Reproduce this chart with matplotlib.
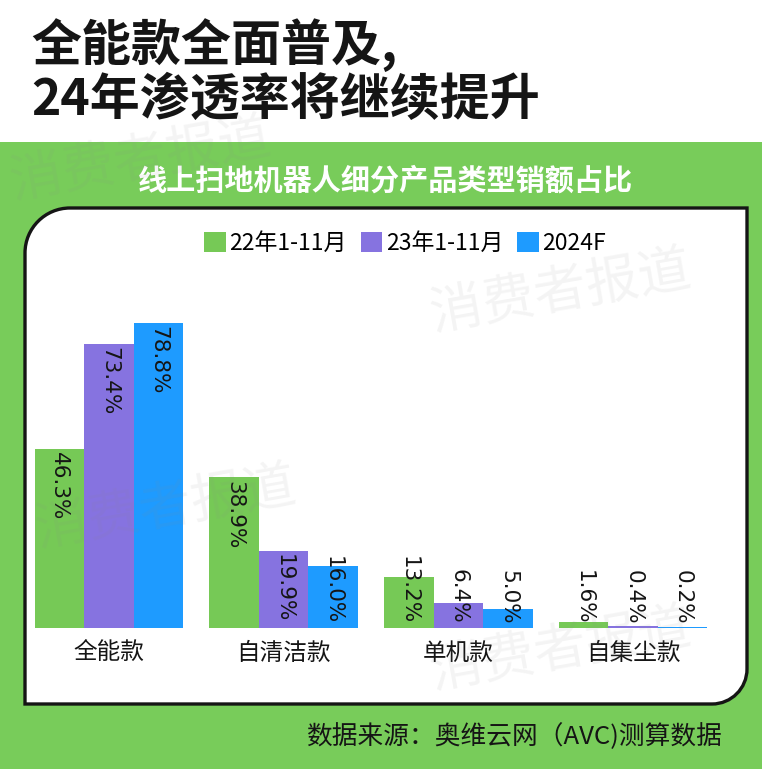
import matplotlib
matplotlib.use("Agg")
import matplotlib.pyplot as plt
import numpy as np
from matplotlib.patches import Rectangle, PathPatch, Patch
from matplotlib.path import Path

plt.rcParams['font.family'] = ['Noto Sans CJK SC', 'DejaVu Sans']

# ---------------- data ----------------
categories = ['全能款', '自清洁款', '单机款', '自集尘款']
series_names = ['22年1-11月', '23年1-11月', '2024F']
vals_22 = [46.3, 38.9, 13.2, 1.6]
vals_23 = [73.4, 19.9, 6.4, 0.4]
vals_24 = [78.8, 16.0, 5.0, 0.2]
series_values = [vals_22, vals_23, vals_24]

title_lines = ['全能款全面普及,', '24年渗透率将继续提升']
subtitle = '线上扫地机器人细分产品类型销额占比'
source = '数据来源：奥维云网（AVC)测算数据'
watermark = '消费者报道'

GREEN_BG = '#78CC5A'
colors = ['#76C956', '#8673E0', '#1E9BFF']
INK = '#151515'

W, H = 762, 769
fig = plt.figure(figsize=(W / 100, H / 100), dpi=100)
fig.patch.set_facecolor('white')

# background layer in pixel coordinates
bg = fig.add_axes([0, 0, 1, 1], zorder=0)
bg.set_xlim(0, W)
bg.set_ylim(H, 0)
bg.axis('off')
bg.add_patch(Rectangle((0, 142), W, H - 142, facecolor=GREEN_BG, edgecolor='none'))

# white panel: rounded top-left and bottom-right corners
L, R, T, B = 25, 747, 208, 704
r1, r2 = 45, 35
k = 0.5523
verts = [
    (L + r1, T), (R, T), (R, B - r2),
    (R, B - r2 + k * r2), (R - r2 + k * r2, B), (R - r2, B),
    (L, B), (L, T + r1),
    (L, T + r1 - k * r1), (L + r1 - k * r1, T), (L + r1, T),
    (L + r1, T),
]
codes = [Path.MOVETO, Path.LINETO, Path.LINETO,
         Path.CURVE4, Path.CURVE4, Path.CURVE4,
         Path.LINETO, Path.LINETO,
         Path.CURVE4, Path.CURVE4, Path.CURVE4,
         Path.CLOSEPOLY]
bg.add_patch(PathPatch(Path(verts, codes), facecolor='white', edgecolor=INK, lw=2.4))

# titles
fig.text(31 / W, 1 - 45 / H, title_lines[0], fontsize=36, fontweight='bold',
         color=INK, ha='left', va='center')
fig.text(31 / W, 1 - 100 / H, title_lines[1], fontsize=36, fontweight='bold',
         color=INK, ha='left', va='center')
fig.text(386 / W, 1 - 181 / H, subtitle, fontsize=21, fontweight='bold',
         color='white', ha='center', va='center')
fig.text(722 / W, 1 - 737 / H, source, fontsize=18.5, fontweight='medium',
         color=INK, ha='right', va='center')

# ---------------- chart ----------------
base_px, top_px = 628, 299
ax = fig.add_axes([30 / W, (H - base_px) / H, 710 / W, (base_px - top_px) / H], zorder=2)
ax.set_facecolor('none')
ymax = 85
ax.set_ylim(0, ymax)
ax.set_xlim(-0.451, 3.611)
for s in ax.spines.values():
    s.set_visible(False)
ax.set_yticks([])

x = np.arange(len(categories))
bw = 0.283
px_per_unit = (base_px - top_px) / ymax
lab_fs = 15.5
for i, (vals, c) in enumerate(zip(series_values, colors)):
    xs = x + (i - 1) * bw
    ax.bar(xs, vals, width=bw, color=c, edgecolor='none', label=series_names[i])
    for xi, v in zip(xs, vals):
        lab = f'{v:.1f}%'
        est_len = (len(lab) * 13.6) / px_per_unit
        if v > est_len:
            ax.text(xi, v - 0.8, lab, rotation=-90, ha='center', va='top',
                    fontsize=lab_fs, color=INK, family='DejaVu Sans')
        else:
            ax.text(xi, 1.0, lab, rotation=-90, ha='center', va='bottom',
                    fontsize=lab_fs, color=INK, family='DejaVu Sans')

ax.set_xticks(x)
ax.set_xticklabels(categories, fontsize=17, color=INK)
ax.tick_params(axis='x', length=0, pad=10)

handles = [Patch(facecolor=c, edgecolor='none') for c in colors]
fig.legend(handles, series_names, loc='center', bbox_to_anchor=(405 / W, 1 - 243 / H),
           ncol=3, frameon=False, fontsize=16.5, handlelength=0.95, handleheight=0.95,
           handletextpad=0.15, columnspacing=0.6, borderaxespad=0)

# watermark overlay
ov = fig.add_axes([0, 0, 1, 1], zorder=5)
ov.set_xlim(0, W)
ov.set_ylim(H, 0)
ov.axis('off')
for (wx, wy) in [(140, 160), (560, 292), (165, 508), (560, 650)]:
    ov.text(wx, wy, watermark, fontsize=38, color='#8a8a8a', alpha=0.09,
            rotation=10, ha='center', va='center', fontweight='light')

fig.savefig('out.png', dpi=100, facecolor=fig.get_facecolor())
